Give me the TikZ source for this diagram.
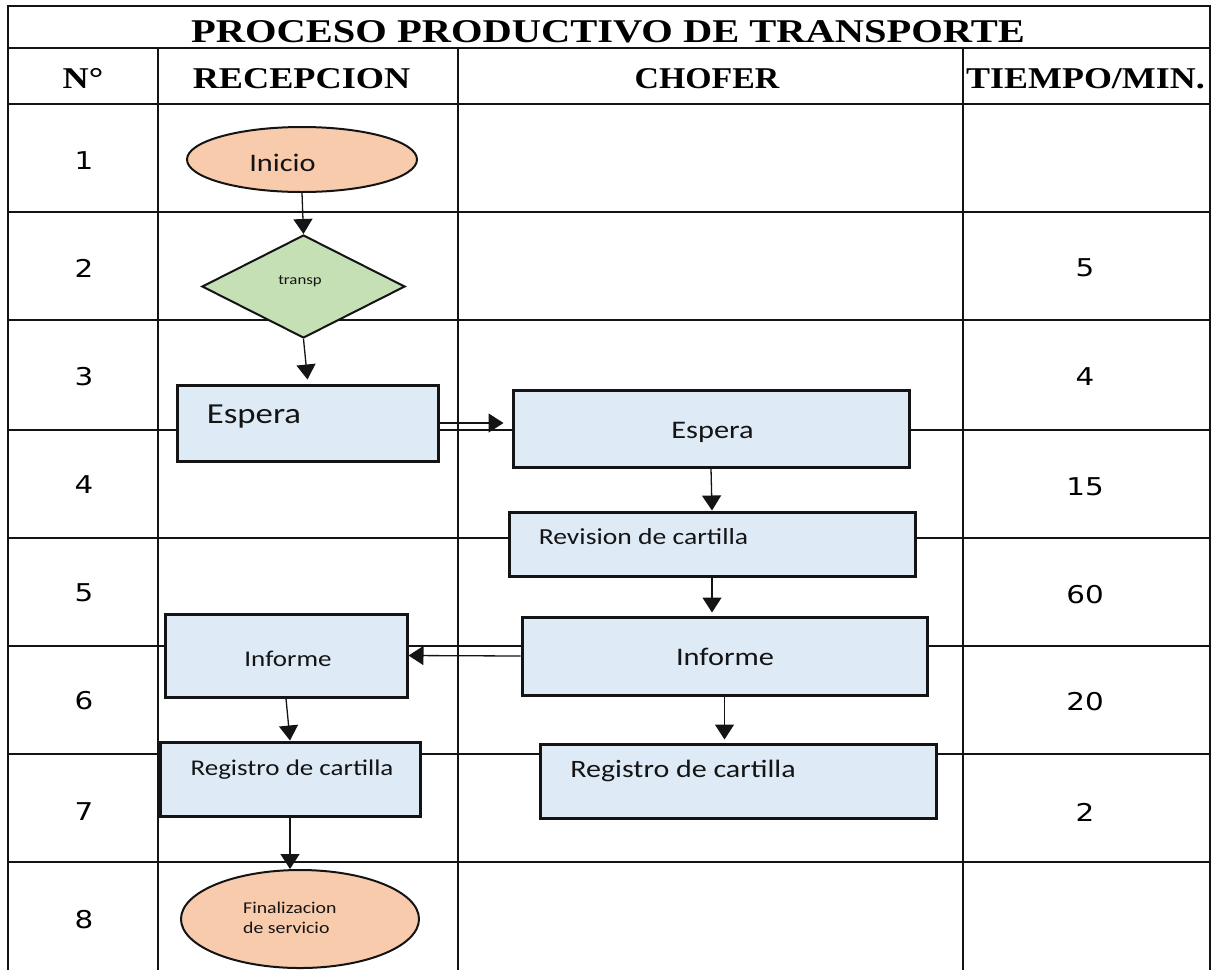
\documentclass[tikz,border=0pt]{standalone}
\usepackage{fontspec}
\usepackage{graphicx}
\usetikzlibrary{shapes.geometric,arrows.meta}
\setmainfont{Liberation Serif}
\newfontfamily\calfont{Carlito}
\newfontfamily\numfont{DejaVu Sans}
\newcommand{\sx}[1]{\scalebox{1.2}[1]{#1}}
\definecolor{boxblue}{HTML}{DEEBF7}
\definecolor{peach}{HTML}{F8CBAD}
\definecolor{softgreen}{HTML}{C5E0B4}
\definecolor{ink}{HTML}{141414}
\begin{document}
\begin{tikzpicture}[x=1pt,y=-1pt,
  thinline/.style={line width=1.3pt, draw=ink},
  midline/.style={line width=2pt, draw=ink},
  thickline/.style={line width=2.6pt, draw=ink},
  procbox/.style={rectangle, draw=ink, line width=3pt, fill=boxblue, inner sep=0pt},
  termshape/.style={ellipse, draw=ink, line width=2pt, fill=peach, inner sep=0pt},
  decshape/.style={diamond, draw=ink, line width=2pt, fill=softgreen, inner sep=0pt},
  arr/.style={line width=1.3pt, draw=ink, -{Triangle[length=15pt,width=19pt]}},
  hdr/.style={inner sep=0pt, anchor=base, font=\fontsize{30.2}{34}\selectfont\bfseries},
  num/.style={inner sep=0pt, font=\numfont\fontsize{24.5}{28}\selectfont},
  lbl/.style={inner sep=0pt, anchor=base, text=ink}
]
\useasboundingbox (0,0) rectangle (1214,970);
\fill[white] (0,0) rectangle (1214,970);

% ---- table grid ----
\draw[midline] (8,48) -- (1210,48);
\draw[thinline] (8,104) -- (1210,104);
\draw[thinline] (8,212) -- (1210,212);
\draw[midline] (8,320) -- (1210,320);
\draw[thinline] (8,430) -- (1210,430);
\draw[thinline] (8,538) -- (1210,538);
\draw[thinline] (8,646) -- (1210,646);
\draw[thinline] (8,754) -- (1210,754);
\draw[midline] (8,862) -- (1210,862);
\draw[midline] (158,48) -- (158,970);
\draw[thinline] (458,48) -- (458,970);
\draw[thickline] (963,48) -- (963,970);
\draw[thickline] (8,970) -- (8,6) -- (1210,6) -- (1210,970);

% ---- title and headers ----
\node[inner sep=0pt, anchor=base] (title) at (608,42)
  {\scalebox{1.22}[1]{\fontsize{33.2}{38}\selectfont\bfseries PROCESO PRODUCTIVO DE TRANSPORTE}};
\node[hdr] (hno) at (83,88) {\sx{N°}};
\node[hdr] (hrec) at (301.5,88) {\sx{RECEPCION}};
\node[hdr] (hcho) at (707,88) {\scalebox{1.12}[1]{CHOFER}};
\node[hdr] (htie) at (1085.5,88) {\scalebox{1.19}[1]{TIEMPO/MIN.}};

% ---- row numbers ----
\node[num] (n1) at (84,160.5) {\sx{1}};
\node[num] (n2) at (84,268) {\sx{2}};
\node[num] (n3) at (84,377) {\sx{3}};
\node[num] (n4) at (84,485) {\sx{4}};
\node[num] (n5) at (84,593) {\sx{5}};
\node[num] (n6) at (84,701) {\sx{6}};
\node[num] (n7) at (84,812) {\sx{7}};
\node[num] (n8) at (84,920) {\sx{8}};

% ---- times ----
\node[num] (t2) at (1085,268) {\sx{5}};
\node[num] (t3) at (1085,377) {\sx{4}};
\node[num] (t4) at (1085,487) {\sx{15}};
\node[num] (t5) at (1085,595) {\sx{60}};
\node[num] (t6) at (1085,702) {\sx{20}};
\node[num] (t7) at (1085,812) {\sx{2}};

% ---- flow shapes ----
\node[termshape, minimum width=230pt, minimum height=65pt] (ini) at (302,159.5) {};
\node[decshape, minimum width=203pt, minimum height=103pt] (dia) at (303.5,286.5) {};
\node[procbox, minimum width=261pt, minimum height=76pt] (esp1) at (307.5,423) {};
\node[procbox, minimum width=396pt, minimum height=77pt] (esp2) at (711,428.5) {};
\node[procbox, minimum width=406pt, minimum height=64pt] (rev) at (712,544) {};
\node[procbox, minimum width=405pt, minimum height=78pt] (inf2) at (724.5,656) {};
\node[procbox, minimum width=242pt, minimum height=83pt] (inf1) at (286,655.5) {};
\node[procbox, minimum width=260pt, minimum height=74pt] (reg1) at (290,779) {};
\node[procbox, minimum width=396pt, minimum height=74pt] (reg2) at (738,781) {};
\node[termshape, minimum width=238pt, minimum height=98pt] (fin) at (300,919) {};

% ---- texts in shapes ----
\node[lbl, font=\calfont\fontsize{25.3}{30}\selectfont] (tini) at (282.5,171) {\sx{Inicio}};
\node[lbl, font=\calfont\fontsize{14}{17}\selectfont] (tdia) at (300,284) {\sx{transp}};
\node[lbl, font=\calfont\fontsize{29}{34}\selectfont] (tesp1) at (254,423) {\sx{Espera}};
\node[lbl, font=\calfont\fontsize{25.3}{30}\selectfont] (tesp2) at (712.5,438) {\sx{Espera}};
\node[lbl, font=\calfont\fontsize{23}{27}\selectfont] (trev) at (643.5,544) {\sx{Revision de cartilla}};
\node[lbl, font=\calfont\fontsize{25.3}{30}\selectfont] (tinf2) at (725,665) {\sx{Informe}};
\node[lbl, font=\calfont\fontsize{22.5}{27}\selectfont] (tinf1) at (288,666) {\sx{Informe}};
\node[lbl, font=\calfont\fontsize{22.5}{27}\selectfont] (treg1) at (292,775) {\sx{Registro de cartilla}};
\node[lbl, font=\calfont\fontsize{25}{30}\selectfont] (treg2) at (683,777) {\sx{Registro de cartilla}};
\node[lbl, anchor=base west, font=\calfont\fontsize{16.5}{20}\selectfont] (tfin1) at (243,913) {\sx{Finalizacion}};
\node[lbl, anchor=base west, font=\calfont\fontsize{16.5}{20}\selectfont] (tfin2) at (243,933) {\sx{de servicio}};

% ---- connectors ----
\draw[arr] (ini.south) -- (dia.north);
\draw[arr] (dia.south) -- ([yshift=4pt]esp1.north);
\draw[arr] (esp1.east) -- ([xshift=-8pt]esp2.west |- esp1.east);
\draw[arr] (esp2.south) -- (rev.north);
\draw[arr] (rev.south) -- ([yshift=3pt]rev.south |- inf2.north);
\draw[arr] (inf2.west) -- (inf1.east);
\draw[arr] (inf1.south) -- (reg1.north);
\draw[arr] (reg1.south) -- (reg1.south |- fin.north);
\draw[arr] (inf2.south) -- ([yshift=3pt]inf2.south |- reg2.north);
\end{tikzpicture}
\end{document}
